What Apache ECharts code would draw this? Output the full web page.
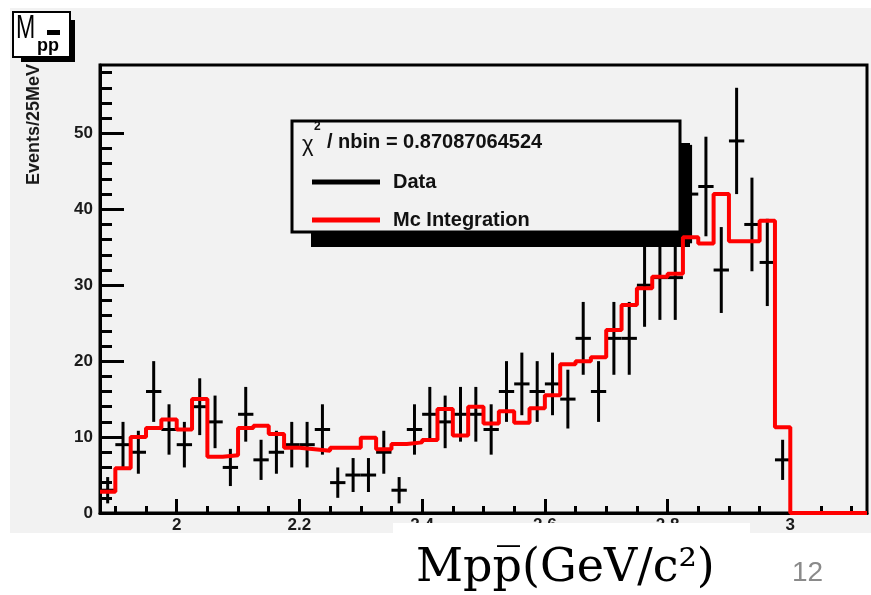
<!DOCTYPE html>
<html><head><meta charset="utf-8">
<script src="https://cdn.jsdelivr.net/npm/echarts@6/dist/echarts.min.js"></script>
<style>html,body{margin:0;padding:0;background:#fff;}#chart{width:871px;height:595px;}</style>
</head><body><div id="chart"></div>
<script>
// ---- data ----
const binLowEdge = 1.875;   // GeV/c^2, first bin low edge
const binWidth = 0.025;     // 25 MeV bins
const dataCounts = [3, 9, 8, 16, 11, 9, 14, 12, 6, 13, 7, 8, 9, 9, 11, 4, 5, 5, 8, 3,
  11, 13, 12, 13, 13, 11, 16, 17, 16, 17, 15, 23, 16, 23, 23, 30, 31, 31, 42, 43,
  32, 49, 38, 33, 7, 0, 0, 0, 0, 0];
const mcIntegration = [2.8, 5.9, 10.0, 11.2, 12.3, 11.0, 15.0, 7.4, 7.6, 11.2, 11.5, 10.4, 8.6, 8.4, 8.2, 8.6, 8.6, 9.9, 8.4, 9.1,
  9.3, 9.6, 13.7, 10.2, 14.0, 11.8, 13.4, 11.9, 13.8, 15.5, 19.6, 20.0, 20.5, 24.1, 27.4, 29.6, 31.1, 31.5, 36.3, 35.5,
  42.0, 35.8, 35.8, 38.5, 11.3, 0, 0, 0, 0, 0];
const xMajorTicks = [2.0, 2.2, 2.4, 2.6, 2.8, 3.0];
const xTickLabels = ['2', '2.2', '2.4', '2.6', '2.8', '3'];
const xMinorTicks = [1.9, 1.95, 2.05, 2.1, 2.15, 2.25, 2.3, 2.35, 2.45, 2.5, 2.55, 2.65, 2.7, 2.75, 2.85, 2.9, 2.95, 3.05, 3.1];
const yMajorTicks = [0, 10, 20, 30, 40, 50];
const yMinorTicks = [2, 4, 6, 8, 12, 14, 16, 18, 22, 24, 26, 28, 32, 34, 36, 38, 42, 44, 46, 48, 52, 54, 56, 58];
const legendNames = ['Data', 'Mc Integration'];
const chiLabel = '/ nbin = 0.87087064524';
const yTitle = 'Events/25MeV';
const xTitle = 'Mpp\u0305(GeV/c\u00B2)';
const pageNumber = '12';
const xRange = [1.875, 3.125];
const yRange = [0, 59];

// ---- build library inputs ----
const dataPoints = dataCounts
  .map((n, i) => [binLowEdge + (i + 0.5) * binWidth, n])
  .filter(d => d[1] > 0);
const mcSteps = mcIntegration.map((v, i) => [binLowEdge + i * binWidth, v]);
mcSteps.push([binLowEdge + mcIntegration.length * binWidth, 0]);

const SANS = "'Liberation Sans', Arial, sans-serif";
const chart = echarts.init(document.getElementById('chart'), null, {renderer: 'canvas'});

const option = {
  animation: false,
  backgroundColor: '#ffffff',
  grid: {left: 100, right: 4, top: 65, bottom: 82, show: true, borderColor: '#000', borderWidth: 3, backgroundColor: 'transparent'},
  xAxis: [
    {type: 'value', min: xRange[0], max: xRange[1], position: 'bottom',
     axisLine: {show: true, onZero: false, lineStyle: {color: '#000', width: 3}},
     axisTick: {show: true, inside: true, length: 14, customValues: xMajorTicks, lineStyle: {color: '#000', width: 3}},
     axisLabel: {show: true, customValues: xMajorTicks, margin: 4, fontFamily: SANS, fontSize: 17, fontWeight: 'bold', color: '#1a1a1a',
       formatter: v => { const k = xMajorTicks.findIndex(t => Math.abs(t - v) < 1e-6); return k >= 0 ? xTickLabels[k] : ''; }},
     splitLine: {show: false}},
    {type: 'value', min: xRange[0], max: xRange[1], position: 'bottom',
     axisLine: {show: false, onZero: false},
     axisTick: {show: true, inside: true, length: 7, customValues: xMinorTicks, lineStyle: {color: '#000', width: 3}},
     axisLabel: {show: false}, splitLine: {show: false}}
  ],
  yAxis: [
    {type: 'value', min: yRange[0], max: yRange[1], position: 'left',
     axisLine: {show: true, onZero: false, lineStyle: {color: '#000', width: 3}},
     axisTick: {show: true, inside: true, length: 24, customValues: yMajorTicks, lineStyle: {color: '#000', width: 3}},
     axisLabel: {show: true, customValues: yMajorTicks, margin: 7, fontFamily: SANS, fontSize: 17, fontWeight: 'bold', color: '#1a1a1a'},
     splitLine: {show: false}},
    {type: 'value', min: yRange[0], max: yRange[1], position: 'left',
     axisLine: {show: false, onZero: false},
     axisTick: {show: true, inside: true, length: 12, customValues: yMinorTicks, lineStyle: {color: '#000', width: 3}},
     axisLabel: {show: false}, splitLine: {show: false}}
  ],
  legend: {
    show: true, orient: 'vertical', left: 307, top: 165, itemWidth: 68, itemHeight: 5, itemGap: 14,
    selectedMode: false,
    data: [
      {name: legendNames[0], icon: 'rect', itemStyle: {color: '#000'}},
      {name: legendNames[1], icon: 'rect', itemStyle: {color: '#ff0000'}}
    ],
    textStyle: {fontFamily: SANS, fontSize: 20, fontWeight: 'bold', color: '#111', lineHeight: 24, padding: [0, 0, 0, 8]}
  },
  series: [
    {
      name: legendNames[0], type: 'custom', xAxisIndex: 0, yAxisIndex: 0,
      data: dataPoints, encode: {x: 0, y: 1},
      itemStyle: {color: '#000'},
      renderItem: function (params, api) {
        const x = api.value(0), n = api.value(1), e = Math.sqrt(n);
        const c = api.coord([x, n]);
        const top = api.coord([x, n + e]);
        const bot = api.coord([x, n - e]);
        const l = api.coord([x - binWidth / 2, n]);
        const r = api.coord([x + binWidth / 2, n]);
        return {type: 'group', children: [
          {type: 'line', shape: {x1: c[0], y1: top[1], x2: c[0], y2: bot[1]}, style: {stroke: '#000', lineWidth: 3}},
          {type: 'line', shape: {x1: l[0], y1: c[1], x2: r[0], y2: c[1]}, style: {stroke: '#000', lineWidth: 3}}
        ]};
      }
    },
    {
      name: legendNames[1], type: 'line', xAxisIndex: 0, yAxisIndex: 0,
      data: mcSteps, step: 'end', symbol: 'none', showSymbol: false,
      lineStyle: {color: '#ff0000', width: 4}, itemStyle: {color: '#ff0000'}, z: 3
    }
  ],
  graphic: [
    // ROOT canvas background
    {type: 'rect', z: -10, shape: {x: 10, y: 8, width: 861, height: 525}, style: {fill: '#f2f2f2'}},
    // histogram title box
    {type: 'rect', z: 5, shape: {x: 21, y: 20, width: 54, height: 42}, style: {fill: '#000'}},
    {type: 'rect', z: 5, shape: {x: 13, y: 12, width: 57, height: 45}, style: {fill: '#fff', stroke: '#000', lineWidth: 2}},
    {type: 'text', z: 6, x: 16, y: 29, scaleX: 0.7, style: {text: 'M', fontFamily: SANS, fontSize: 33, fill: '#000', align: 'left', verticalAlign: 'middle'}},
    {type: 'rect', z: 6, shape: {x: 47, y: 30, width: 13, height: 5}, style: {fill: '#000'}},
    {type: 'text', z: 6, x: 37, y: 46, style: {text: 'pp', fontFamily: SANS, fontSize: 18, fontWeight: 'bold', fill: '#000', align: 'left', verticalAlign: 'middle'}},
    // y title
    {type: 'text', z: 5, x: 43, y: 64, rotation: Math.PI / 2,
     style: {text: yTitle, fontFamily: SANS, fontSize: 18, fontWeight: 'bold', fill: '#1a1a1a', align: 'right', verticalAlign: 'bottom'}},
    // legend frame + shadow
    {type: 'rect', z: 3, shape: {x: 311, y: 143, width: 379, height: 104}, style: {fill: '#000'}},
    {type: 'rect', z: 3, shape: {x: 292, y: 121, width: 388, height: 111}, style: {fill: '#f2f2f2', stroke: '#000', lineWidth: 3}},
    {type: 'text', z: 6, x: 302, y: 145, style: {text: '\u03C7', fontFamily: SANS, fontSize: 22, fill: '#111', align: 'left', verticalAlign: 'middle'}},
    {type: 'text', z: 6, x: 314, y: 127, style: {text: '2', fontFamily: SANS, fontSize: 12, fontWeight: 'bold', fill: '#111', align: 'left', verticalAlign: 'middle'}},
    {type: 'text', z: 6, x: 327, y: 142, style: {text: chiLabel, fontFamily: SANS, fontSize: 20, fontWeight: 'bold', fill: '#111', align: 'left', verticalAlign: 'middle'}},
    // slide overlay: white box with axis title
    {type: 'rect', z: 20, shape: {x: 393, y: 523, width: 357, height: 72}, style: {fill: '#fff'}},
    {type: 'text', z: 21, x: 416, y: 569, style: {text: xTitle, fontFamily: "'DejaVu Serif', serif", fontSize: 46, fill: '#000', align: 'left', verticalAlign: 'middle'}},
    {type: 'text', z: 21, x: 792, y: 573, style: {text: pageNumber, fontFamily: SANS, fontSize: 28, fill: '#8a8a8a', align: 'left', verticalAlign: 'middle'}}
  ]
};
chart.setOption(option);
</script>
</body></html>
